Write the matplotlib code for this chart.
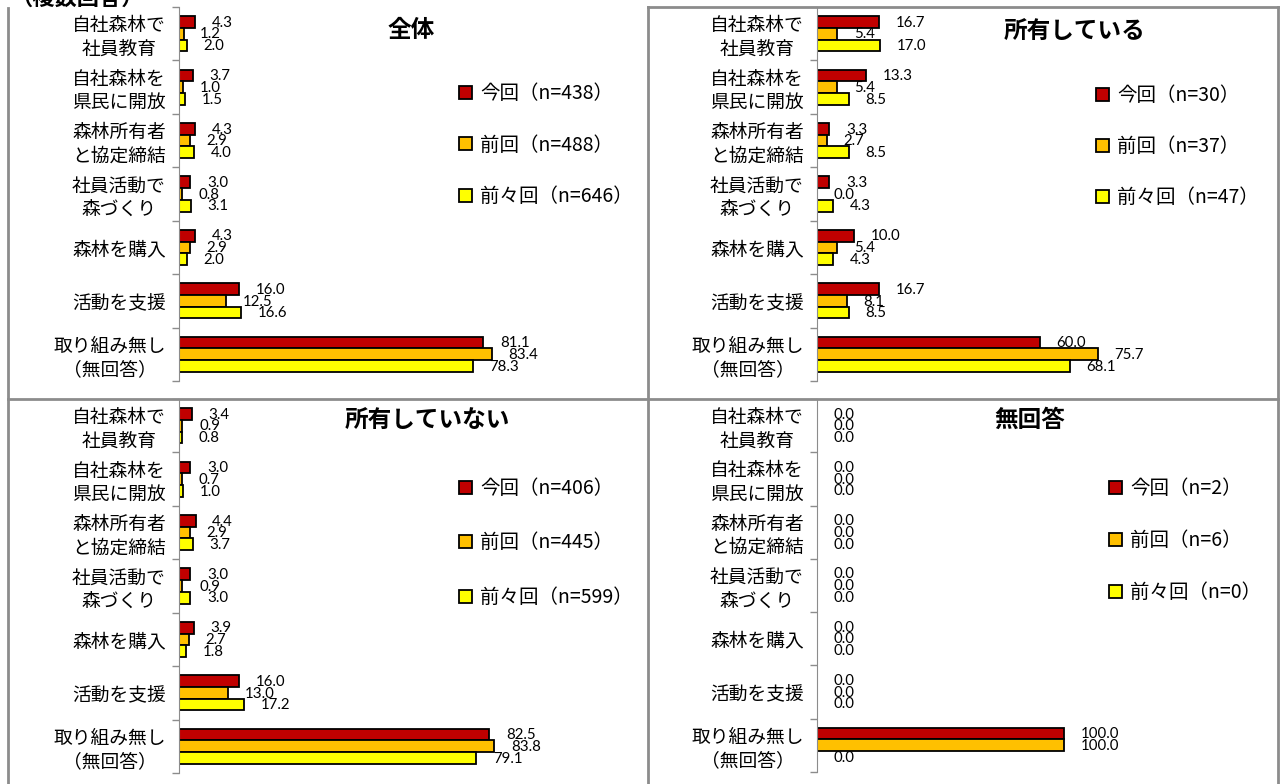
import matplotlib
matplotlib.use("Agg")
import matplotlib.pyplot as plt
import numpy as np
from matplotlib.lines import Line2D
from matplotlib.patches import Patch

plt.rcParams["font.family"] = ["Noto Sans CJK JP", "DejaVu Sans"]

W, H = 1280, 784

# ---------------------------------------------------------------------------
# Data
# ---------------------------------------------------------------------------
CATEGORIES = ["自社森林で\n社員教育", "自社森林を\n県民に開放", "森林所有者\nと協定締結",
              "社員活動で\n森づくり", "森林を購入", "活動を支援", "取り組み無し\n（無回答）"]
SERIES = ["今回", "前回", "前々回"]
COLORS = ["#C00000", "#FFC000", "#FFFF00"]

# 全体
ALL_NOW   = [4.3, 3.7, 4.3, 3.0, 4.3, 16.0, 81.1]
ALL_PREV  = [1.2, 1.0, 2.9, 0.8, 2.9, 12.5, 83.4]
ALL_PREV2 = [2.0, 1.5, 4.0, 3.1, 2.0, 16.6, 78.3]
ALL_N     = [438, 488, 646]

# 所有している
OWN_NOW   = [16.7, 13.3, 3.3, 3.3, 10.0, 16.7, 60.0]
OWN_PREV  = [5.4, 5.4, 2.7, 0.0, 5.4, 8.1, 75.7]
OWN_PREV2 = [17.0, 8.5, 8.5, 4.3, 4.3, 8.5, 68.1]
OWN_N     = [30, 37, 47]

# 所有していない
NOT_NOW   = [3.4, 3.0, 4.4, 3.0, 3.9, 16.0, 82.5]
NOT_PREV  = [0.9, 0.7, 2.9, 0.9, 2.7, 13.0, 83.8]
NOT_PREV2 = [0.8, 1.0, 3.7, 3.0, 1.8, 17.2, 79.1]
NOT_N     = [406, 445, 599]

# 無回答
NA_NOW   = [0.0, 0.0, 0.0, 0.0, 0.0, 0.0, 100.0]
NA_PREV  = [0.0, 0.0, 0.0, 0.0, 0.0, 0.0, 100.0]
NA_PREV2 = [0.0, 0.0, 0.0, 0.0, 0.0, 0.0, 0.0]
NA_N     = [2, 6, 0]

# panel layout in pixels: (left, top, right, bottom), xmax, title pos, legend anchor
PANELS = [
    dict(title="全体", vals=[ALL_NOW, ALL_PREV, ALL_PREV2], n=ALL_N,
         box=(179, 7, 640, 381), xmax=122.9, tpos=(411, 30), lpos=(459, 83), lsp=1.57),
    dict(title="所有している", vals=[OWN_NOW, OWN_PREV, OWN_PREV2], n=OWN_N,
         box=(817, 7, 1275, 381), xmax=123.4, tpos=(1075, 31), lpos=(1096, 85), lsp=1.55),
    dict(title="所有していない", vals=[NOT_NOW, NOT_PREV, NOT_PREV2], n=NOT_N,
         box=(179, 399, 640, 773), xmax=122.6, tpos=(427, 420), lpos=(459, 478), lsp=1.72),
    dict(title="無回答", vals=[NA_NOW, NA_PREV, NA_PREV2], n=NA_N,
         box=(817, 399, 1275, 772), xmax=185.4, tpos=(1030, 420), lpos=(1109, 478), lsp=1.6),
]

GRAY = "#8C8C8C"
NUM_FONT = ["Lato", "DejaVu Sans"]

fig = plt.figure(figsize=(W / 100, H / 100), dpi=100)

# ---------------------------------------------------------------------------
# Panels
# ---------------------------------------------------------------------------
for p in PANELS:
    l, t, r, b = p["box"]
    ax = fig.add_axes([l / W, 1 - b / H, (r - l) / W, (b - t) / H])
    y = np.arange(len(CATEGORIES))
    h = 0.22
    for k, (vals, col) in enumerate(zip(p["vals"], COLORS)):
        yy = y + (k - 1) * h
        lws = [1.3 if v > 0 else 0 for v in vals]
        ax.barh(yy, vals, height=h, color=col, edgecolor="black", linewidth=lws)
        for yi, v in zip(yy, vals):
            ax.annotate(f"{v:.1f}", (v, yi), xytext=(12, -0.5), textcoords="offset points",
                        ha="left", va="center", fontsize=10.8, family=NUM_FONT)

    ax.set_ylim(len(CATEGORIES) - 0.5, -0.5)
    ax.set_xlim(0, p["xmax"])
    ax.set_xticks([])
    ax.set_yticks(y)
    ax.set_yticklabels(CATEGORIES, fontsize=13.5, multialignment="center", linespacing=1.15)
    ax.set_yticks(np.arange(-0.5, len(CATEGORIES), 1), minor=True)
    ax.tick_params(axis="y", which="major", length=0, pad=9.5)
    ax.tick_params(axis="y", which="minor", length=5, color=GRAY, width=1)
    for s in ["top", "right", "bottom"]:
        ax.spines[s].set_visible(False)
    ax.spines["left"].set_color(GRAY)
    ax.patch.set_alpha(0)

    handles = [Patch(facecolor=c, edgecolor="black", linewidth=1.3) for c in COLORS]
    labels = [f"{s}（n={n}）" for s, n in zip(SERIES, p["n"])]
    lx, ly = p["lpos"]
    ax.legend(handles, labels, loc="upper left", bbox_to_anchor=(lx / W, 1 - ly / H),
              bbox_transform=fig.transFigure, frameon=False, fontsize=14,
              handlelength=0.65, handleheight=0.65, handletextpad=0.45,
              labelspacing=p["lsp"], borderpad=0, borderaxespad=0)

    tx, ty = p["tpos"]
    fig.text(tx / W, 1 - ty / H, p["title"], ha="center", va="center",
             fontsize=17, fontweight="bold")

# ---------------------------------------------------------------------------
# Frame lines
# ---------------------------------------------------------------------------
def fig_line(x0, y0, x1, y1):
    fig.add_artist(Line2D([x0 / W, x1 / W], [1 - y0 / H, 1 - y1 / H],
                          transform=fig.transFigure, color=GRAY, linewidth=2))

fig_line(8, 8, 8, 784)
fig_line(648, 7, 648, 784)
fig_line(648, 7, 1278, 7)
fig_line(1278, 7, 1278, 784)
fig_line(8, 399, 1278, 399)

fig.text(10 / W, 1 + 2 / H, "（複数回答）", ha="left", va="center",
         fontsize=16, fontweight="bold")

fig.savefig("out.png", dpi=100, facecolor="white")
